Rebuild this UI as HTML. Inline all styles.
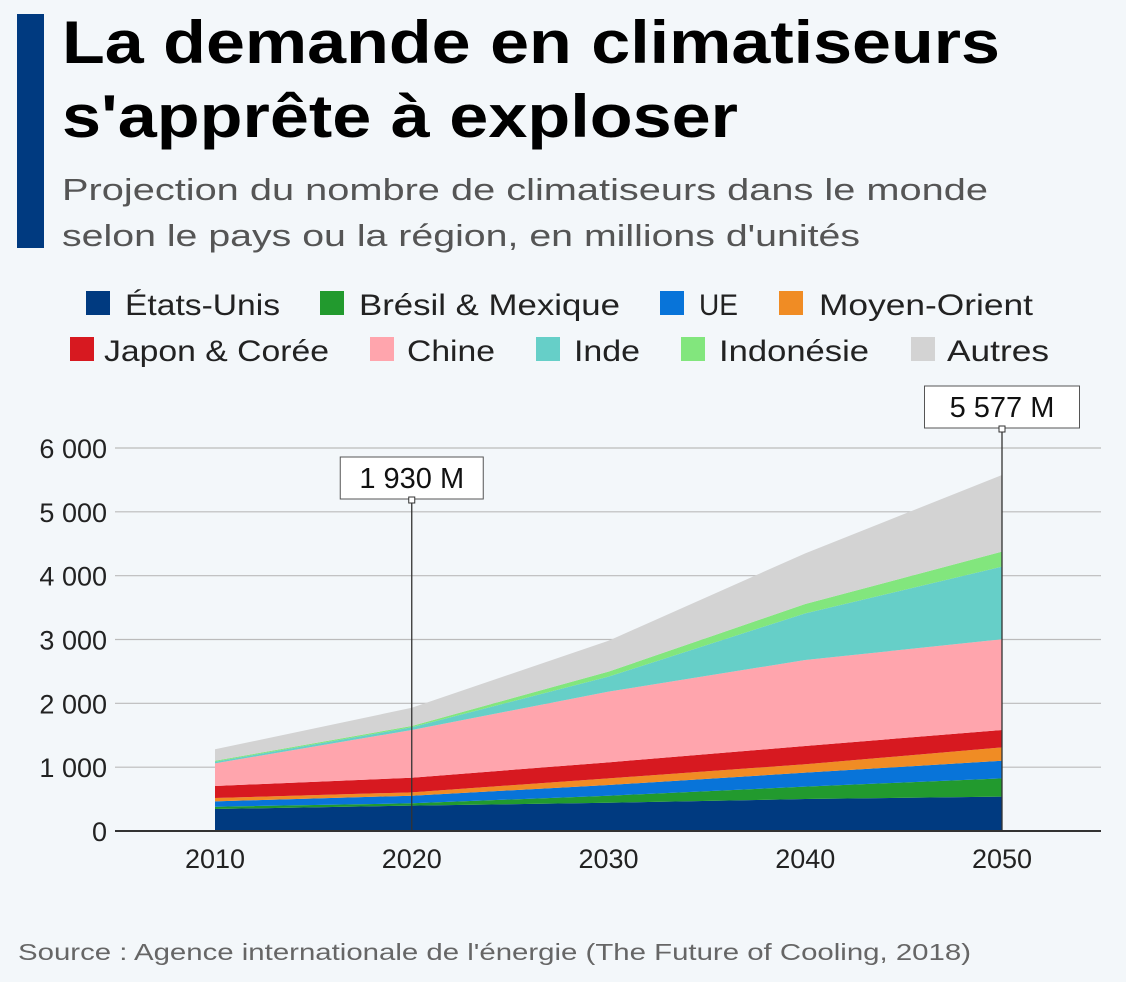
<!DOCTYPE html>
<html><head><meta charset="utf-8"><style>
html,body{margin:0;padding:0;background:#f3f7fa;}
svg{display:block;font-family:"Liberation Sans",sans-serif;}
</style></head><body>
<svg id="chart" width="1126" height="982" viewBox="0 0 1126 982">
<rect x="0" y="0" width="1126" height="982" fill="#f3f7fa"/>
<rect x="17" y="14" width="27" height="234" fill="#003a80"/>
<text x="62" y="63" font-size="60" font-weight="bold" fill="#000" textLength="938" lengthAdjust="spacingAndGlyphs">La demande en climatiseurs</text>
<text x="62" y="137" font-size="60" font-weight="bold" fill="#000" textLength="676" lengthAdjust="spacingAndGlyphs">s'apprête à exploser</text>
<text x="62" y="200" font-size="31" fill="#555" textLength="926" lengthAdjust="spacingAndGlyphs">Projection du nombre de climatiseurs dans le monde</text>
<text x="62" y="246" font-size="31" fill="#555" textLength="798" lengthAdjust="spacingAndGlyphs">selon le pays ou la région, en millions d'unités</text>
<g id="legend"></g>
<g id="grid"></g>
<g id="areas"></g>
<g id="axes"></g>
<g id="annot"></g>
<text x="18" y="960" font-size="23" fill="#666" textLength="953" lengthAdjust="spacingAndGlyphs">Source : Agence internationale de l'énergie (The Future of Cooling, 2018)</text>
</svg>
<script>
const years = [2010, 2020, 2030, 2040, 2050];
const seriesNames = ["États-Unis","Brésil & Mexique","UE","Moyen-Orient","Japon & Corée","Chine","Inde","Indonésie","Autres"];
const usa = [345, 397, 443, 501, 538];
const bresilMexique = [35, 37, 110, 194, 287];
const ue = [85, 119, 167, 219, 276];
const moyenOrient = [52, 53, 105, 131, 210];
const japonCoree = [188, 229, 251, 287, 271];
const chine = [355, 747, 1107, 1347, 1421];
const inde = [25, 43, 235, 731, 1138];
const indonesie = [15, 20, 78, 146, 235];
const autres = [180, 285, 484, 794, 1201];
const yTicks = [0, 1000, 2000, 3000, 4000, 5000, 6000];
const yTickLabels = ["0","1 000","2 000","3 000","4 000","5 000","6 000"];
const annotYears = [2020, 2050];
const annotLabels = ["1 930 M", "5 577 M"];

const colors = ["#003a80","#229a2e","#0874d9","#f08c24","#d71920","#ffa5ad","#66cfc8","#82e67d","#d3d3d3"];
const allSeries = [usa,bresilMexique,ue,moyenOrient,japonCoree,chine,inde,indonesie,autres];
const NS="http://www.w3.org/2000/svg";
function X(yr){return 215 + (yr-2010)*(1002-215)/40;}
function Y(v){return 831 - v*(831-448)/6000;}
function mk(tag, attrs, parent){const e=document.createElementNS(NS,tag);for(const k in attrs)e.setAttribute(k,attrs[k]);parent.appendChild(e);return e;}

// legend: [swatchX, rowY, textX, textWidth]
const legendPos=[[86,291,125,155],[320,291,359,261],[660,291,699,39],[779,291,819,214],[70,337,104,225],[370,337,407,88],[536,337,574,66],[681,337,719,150],[911,337,947,102]];
const lg=document.getElementById('legend');
seriesNames.forEach((n,i)=>{
  const p=legendPos[i];
  const r=mk('rect',{x:p[0],y:p[1],width:24,height:24,fill:colors[i]},lg);
  
  
  const t=mk('text',{x:p[2],y:p[1]+24,'font-size':30,fill:'#222',textLength:p[3],lengthAdjust:'spacingAndGlyphs'},lg);
  t.textContent=n;
  
  
});

// grid + y labels
const gg=document.getElementById('grid');
yTicks.forEach((v,i)=>{
  if(v>0){const l=mk('line',{x1:115,x2:1101,y1:Y(v),y2:Y(v),stroke:'#bbb','stroke-width':1.2},gg);
  
  }
  const t=mk('text',{x:107,y:Y(v)+10,'font-size':27,fill:'#222','text-anchor':'end'},gg);
  t.textContent=yTickLabels[i];
  
  
});

// areas
const ag=document.getElementById('areas');
let base=years.map(()=>0);
allSeries.forEach((s,i)=>{
  const top=base.map((b,j)=>b+s[j]);
  let d='';
  years.forEach((yr,j)=>{d+=(j?'L':'M')+X(yr)+','+Y(top[j]);});
  for(let j=years.length-1;j>=0;j--)d+='L'+X(years[j])+','+Y(base[j]);
  const p=mk('path',{d:d+'Z',fill:colors[i]},ag);
  
  
  base=top;
});

// axes
const ax=document.getElementById('axes');
const al=mk('line',{x1:115,x2:1101,y1:831,y2:831,stroke:'#333','stroke-width':2},ax);


years.forEach(yr=>{
  const t=mk('text',{x:X(yr),y:868,'font-size':27,fill:'#222','text-anchor':'middle'},ax);
  t.textContent=yr;
  
  
});

// annotations
const an=document.getElementById('annot');
const annotBoxY=[457,386];
const annotBoxW=[143,155];
annotYears.forEach((yr,i)=>{
  const x=X(yr), by=annotBoxY[i], w=annotBoxW[i];
  const l=mk('line',{x1:x,x2:x,y1:by+42,y2:831,stroke:'#333','stroke-width':1.3},an);
  
  
  const r=mk('rect',{x:x-w/2,y:by,width:w,height:42,fill:'#fff',stroke:'#555','stroke-width':1},an);
  
  
  const m=mk('rect',{x:x-3,y:by+40,width:6,height:6,fill:'#fff',stroke:'#333','stroke-width':1},an);
  
  
  const t=mk('text',{x:x,y:by+31,'font-size':29,fill:'#111','text-anchor':'middle'},an);
  t.textContent=annotLabels[i];
  
  
});
</script>
</body></html>
